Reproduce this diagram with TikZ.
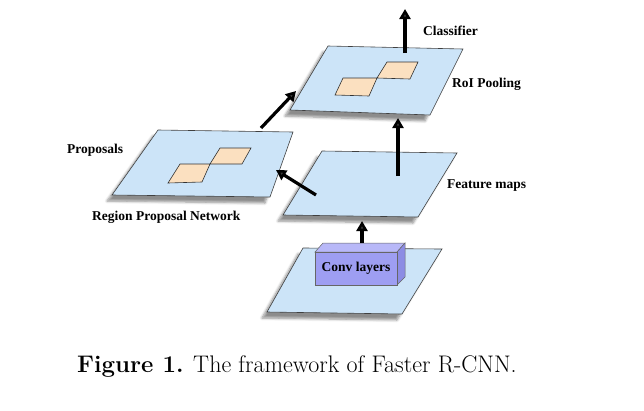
\documentclass[tikz,border=0pt]{standalone}
\usepackage{fontspec}
\newfontfamily\lblfont{Liberation Serif}
\usepackage{tikz}
\usetikzlibrary{
arrows.meta,
positioning,
shadows.blur
}
\definecolor{planeblue}{RGB}{204,228,248}
\definecolor{patchpeach}{RGB}{251,224,192}
\definecolor{convfront}{RGB}{158,158,242}
\definecolor{convtop}{RGB}{184,184,248}
\definecolor{convside}{RGB}{140,140,228}

\begin{document}
\begin{tikzpicture}[
  x=1pt, y=-1pt,
  >={Triangle[length=10pt,width=11pt]},
  plane/.style={draw=black!75, fill=planeblue, line width=0.6pt,
    blur shadow={shadow xshift=-5pt, shadow yshift=-6pt, shadow opacity=45,
      shadow blur steps=6, shadow blur radius=2.5pt}},
  patch/.style={draw=black!80, fill=patchpeach, line width=0.6pt},
  conv/.style={draw=black!60, line width=0.5pt},
  flow/.style={->, line width=3.2pt},
  lbl/.style={font=\lblfont\bfseries\fontsize{13.5}{15}\selectfont, inner sep=0pt, anchor=west}
]
\useasboundingbox (0,0) rectangle (644,410);

% Planes
\draw[plane] (290,110) -- (328,46) -- (463,49) -- (430,115) -- cycle;  % RoI pooling
\draw[plane] (112,195) -- (158,130) -- (293,132) -- (270,197) -- cycle; % proposals
\draw[plane] (283,215) -- (322,151) -- (457,153) -- (418,217) -- cycle; % feature maps
\draw[plane] (267,312) -- (303,248) -- (442,249) -- (402,314) -- cycle; % input

% Pooled regions
\draw[patch] (335,95) -- (343,78) -- (377,78) -- (369,96) -- cycle;
\draw[patch] (377,78) -- (387,62) -- (418,62) -- (410,79) -- cycle;

% Proposed regions
\draw[patch] (168,183) -- (180,164) -- (210,164) -- (202,182) -- cycle;
\draw[patch] (210,164) -- (220,148) -- (251,148) -- (242,164) -- cycle;

% Conv block
\draw[conv, fill=convtop] (315,252) -- (323,243) -- (405,243) -- (397,252) -- cycle;
\draw[conv, fill=convside] (397,252) -- (405,243) -- (405,277) -- (397,285) -- cycle;
\draw[conv, fill=convfront] (315,252) rectangle (397,285);
\node[lbl, anchor=center] (convlbl) at (356,268.5) {Conv layers};

% Arrow ends
\coordinate (convtopc) at (362,243);
\coordinate (fmbottom) at (362,221);
\coordinate (fmcentre) at (398,176);
\coordinate (roibottom) at (398,118);
\coordinate (fmleft) at (316,195);
\coordinate (rpnright) at (276,170);
\coordinate (rpntop) at (261,128);
\coordinate (roileft) at (296,91);
\coordinate (roicentre) at (405,53);
\coordinate (clsout) at (405,9);

% Arrows
\draw[flow] (convtopc) -- (fmbottom);
\draw[flow] (fmcentre) -- (roibottom);
\draw[flow] (fmleft) -- (rpnright);
\draw[flow] (rpntop) -- (roileft);
\draw[flow] (roicentre) -- (clsout);

% Labels
\node[lbl] (cls) at (423,31) {Classifier};
\node[lbl] (roi) at (452,84) {RoI Pooling};
\node[lbl] (prop) at (67,150) {Proposals};
\node[lbl] (rpn) at (92,217) {Region Proposal Network};
\node[lbl] (fmap) at (447,186) {Feature maps};

% Caption
\node[font=\fontsize{24}{27}\selectfont, inner sep=0pt, anchor=west] (cap) at (77,366)
  {\textbf{Figure 1.} The framework of Faster R-CNN.};

\end{tikzpicture}
\end{document}
